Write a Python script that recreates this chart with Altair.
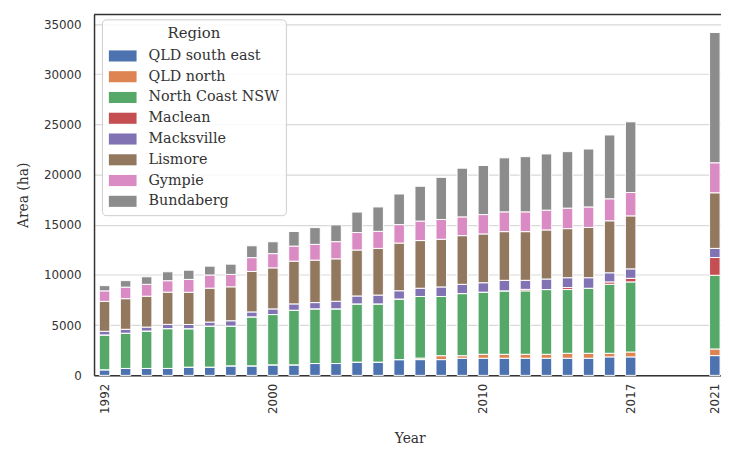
import altair as alt
import pandas as pd

years = list(range(1992, 2018)) + [2021]
all_years = list(range(1992, 2022))
label_years = [1992, 2000, 2010, 2017, 2021]

regions = ["QLD south east", "QLD north", "North Coast NSW", "Maclean",
           "Macksville", "Lismore", "Gympie", "Bundaberg"]
colors = ["#4C72B0", "#DD8452", "#55A868", "#C44E52",
          "#8172B3", "#937860", "#DA8BC3", "#8C8C8C"]

qld_south_east = [560, 690, 690, 690, 820, 820, 950, 950, 1050, 1050, 1180, 1180, 1320, 1320,
                  1570, 1570, 1570, 1710, 1710, 1710, 1710, 1710, 1710, 1710, 1840, 1840, 1970]
qld_north = [0, 0, 0, 0, 0, 0, 0, 0, 0, 0, 0, 0, 0, 0,
             0, 150, 390, 250, 390, 390, 390, 390, 490, 490, 360, 490, 660]
north_coast_nsw = [3470, 3510, 3730, 3970, 3830, 4090, 3960, 4880, 5010, 5440, 5450, 5450, 5800, 5800,
                   6040, 6140, 5900, 6190, 6190, 6320, 6320, 6450, 6350, 6480, 6880, 6980, 7340]
maclean = [0, 0, 0, 0, 0, 0, 0, 0, 0, 0, 0, 0, 0, 0,
           0, 0, 0, 0, 0, 0, 150, 0, 200, 0, 230, 360, 1770]
macksville = [360, 390, 390, 420, 420, 400, 530, 490, 560, 630, 620, 750, 790, 880,
              820, 820, 950, 920, 940, 1050, 900, 1050, 980, 1050, 910, 940, 910]
lismore = [2980, 3050, 3080, 3210, 3210, 3380, 3380, 4030, 4090, 4260, 4230, 4230, 4580, 4650,
           4750, 4750, 4750, 4850, 4860, 4850, 4850, 4890, 4890, 5010, 5180, 5280, 5540]
gympie = [1050, 1150, 1180, 1140, 1280, 1310, 1240, 1380, 1420, 1500, 1570, 1710, 1740, 1700,
          1840, 1940, 1970, 1870, 1930, 1970, 1970, 1970, 2040, 2040, 2190, 2330, 2990]
bundaberg = [520, 650, 750, 890, 920, 880, 1020, 1180, 1180, 1450, 1670, 1670, 2040, 2430,
             3050, 3470, 4200, 4850, 4890, 5380, 5500, 5600, 5630, 5770, 6360, 7040, 12980]

series = [qld_south_east, qld_north, north_coast_nsw, maclean,
          macksville, lismore, gympie, bundaberg]

rows = []
for idx, (name, vals) in enumerate(zip(regions, series)):
    for y, v in zip(years, vals):
        rows.append({"Year": y, "Region": name, "Area": v, "idx": idx})
df = pd.DataFrame(rows)

W, H = 634, 365
STEP = 21.28

bars = alt.Chart(df).mark_bar(stroke="white", strokeWidth=1).encode(
    x=alt.X("Year:O",
            scale=alt.Scale(domain=all_years, range=[0, STEP * 30],
                            paddingInner=0.5, paddingOuter=0.25),
            axis=alt.Axis(title="Year", labelAngle=270, ticks=False, labelPadding=8,
                          labelExpr="indexof([1992,2000,2010,2017,2021], datum.value) >= 0 ? datum.label : ''",
                          titlePadding=18)),
    y=alt.Y("Area:Q", stack="zero",
            scale=alt.Scale(domain=[0, 35960], nice=False, zero=True),
            axis=alt.Axis(title="Area (ha)", values=[0, 5000, 10000, 15000, 20000, 25000, 30000, 35000],
                          format="d", ticks=False, labelPadding=13, titlePadding=13)),
    color=alt.Color("Region:N", scale=alt.Scale(domain=regions, range=colors),
                    legend=alt.Legend(title="Region", orient="none", legendX=8, legendY=5,
                                      symbolType="M-1,-0.4H1V0.4H-1Z", symbolSize=784,
                                      symbolStrokeWidth=0, symbolOpacity=1,
                                      labelFont="DejaVu Serif", labelFontSize=14.5, labelColor="#333",
                                      titleFont="DejaVu Serif", titleFontSize=15, titleFontWeight="normal",
                                      titleColor="#333", titleAnchor="middle", titleAlign="center",
                                      titlePadding=1, rowPadding=-1, labelOffset=12,
                                      fillColor="rgba(255,255,255,0.85)", strokeColor="#cccccc",
                                      cornerRadius=4, padding=7)),
    order=alt.Order("idx:Q", sort="ascending"),
)

top_line = alt.Chart(pd.DataFrame({"a": [0]})).mark_rule(color="#333", strokeWidth=1.5).encode(
    y=alt.value(0), x=alt.value(0), x2=alt.value(W))

chart = alt.layer(bars, top_line).properties(
    width=W, height=H,
    autosize=alt.AutoSizeParams(type="none"),
    padding={"left": 87, "top": 4, "right": 0, "bottom": 75},
).configure_view(stroke=None).configure_axis(
    labelFont="DejaVu Sans", labelFontSize=12, labelColor="#333",
    titleFont="DejaVu Serif", titleFontSize=14, titleFontWeight="normal", titleColor="#333",
    gridColor="#d9d9d9", gridWidth=1.2, domainColor="#333", domainWidth=1.5,
).configure_axisX(labelBaseline="middle")

chart.save("out.html", embed_options={"renderer": "svg", "actions": False})
